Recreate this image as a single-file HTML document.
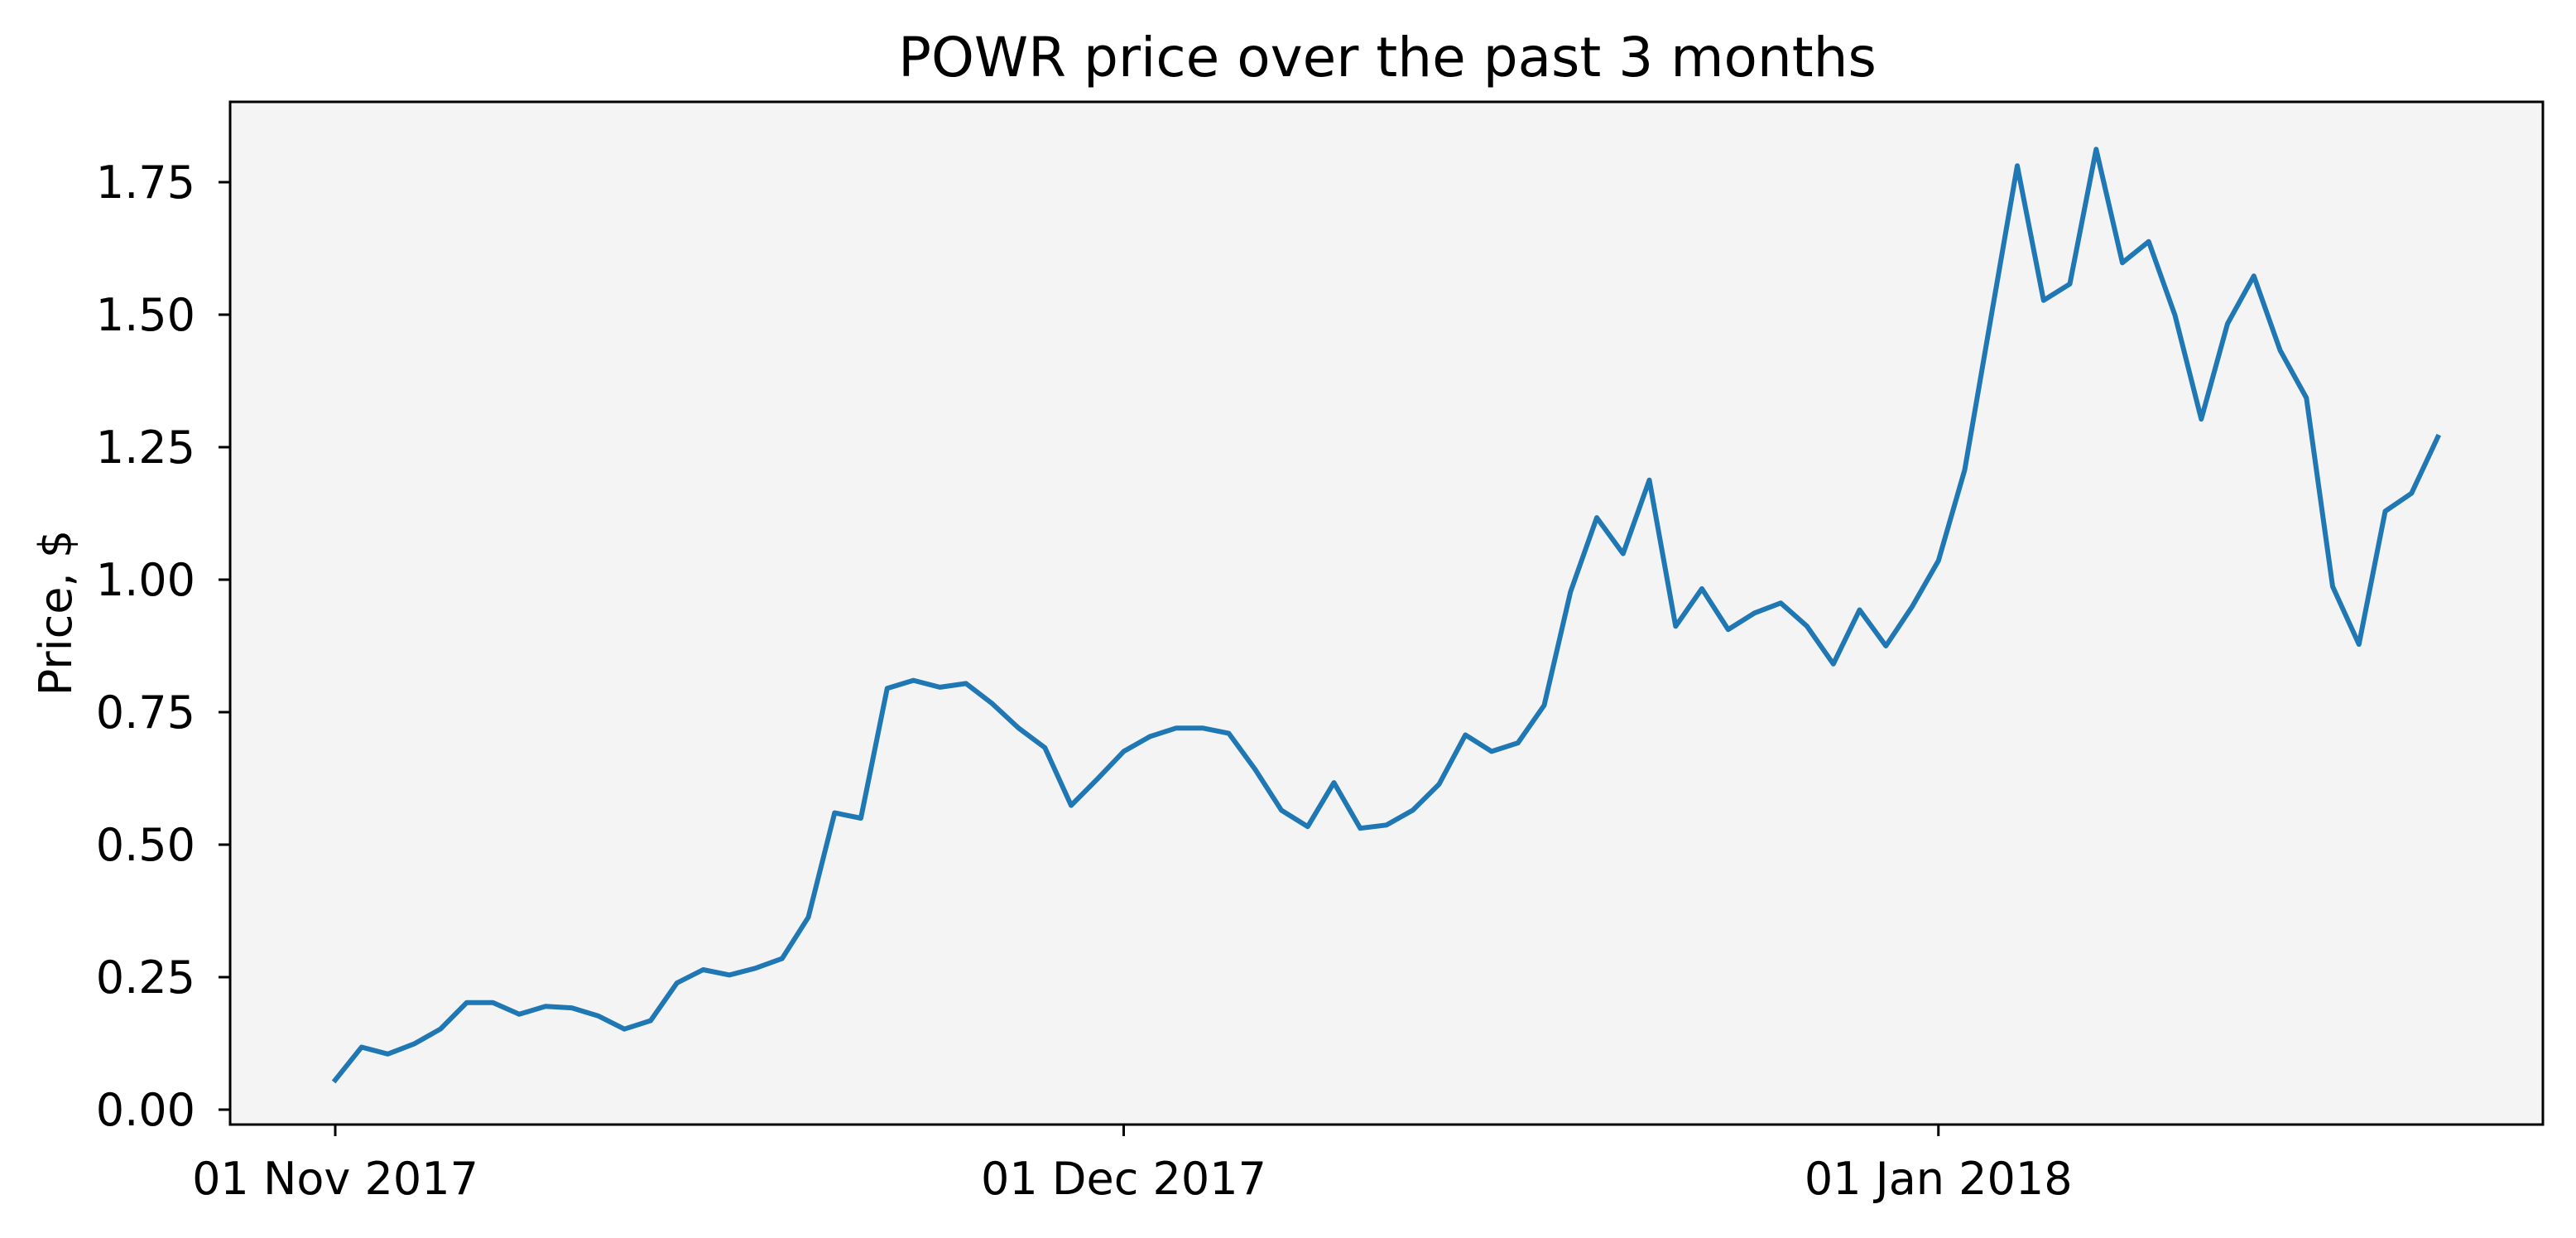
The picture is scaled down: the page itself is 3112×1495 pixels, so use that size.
<!DOCTYPE html>
<html><head><meta charset="utf-8"><style>
html,body{margin:0;padding:0;background:#fff;}
svg text{font-family:"DejaVu Sans","Liberation Sans",sans-serif;fill:#000;}
</style></head><body>
<svg id="chart" width="3112" height="1490" xmlns="http://www.w3.org/2000/svg">
<rect x="0" y="0" width="3112" height="1490" fill="#fff"/>
<rect x="278" y="123" width="2794" height="1235" fill="#f4f4f4"/>
<text x="1676" y="92" font-size="66" text-anchor="middle">POWR price over the past 3 months</text>
<text transform="translate(86,740) rotate(-90)" font-size="54" text-anchor="middle">Price, $</text>
<g id="yticks"></g><g id="xticks"></g>
<path id="line" fill="none" stroke="#1f77b4" stroke-width="6" stroke-linejoin="round" stroke-linecap="square"/>
<rect x="278" y="123" width="2794" height="1235" fill="none" stroke="#000" stroke-width="3"/>
</svg>
<script>
const prices=[0.056,0.118,0.105,0.124,0.152,0.202,0.202,0.18,0.195,0.192,0.177,0.152,0.168,0.239,0.264,0.254,0.267,0.285,0.363,
0.56,0.55,0.795,0.81,0.797,0.804,0.766,0.72,0.683,0.574,0.624,0.676,0.704,0.72,0.72,0.71,0.642,0.565,0.534,0.617,0.531,0.537,0.565,0.614,0.707,0.676,0.692,0.763,0.977,1.117,1.049,1.188,0.912,0.983,0.906,0.937,0.956,0.912,0.841,0.943,0.875,0.949,1.036,1.207,1.495,1.781,1.527,1.558,1.812,1.598,1.638,1.499,1.303,1.483,1.573,1.433,1.343,0.987,0.878,1.129,1.163,1.269];
const yTicks=[0,0.25,0.5,0.75,1.0,1.25,1.5,1.75];
const yTickLabels=["0.00","0.25","0.50","0.75","1.00","1.25","1.50","1.75"];
const xTickDays=[0,30,61];
const xTickLabels=["01 Nov 2017","01 Dec 2017","01 Jan 2018"];
const NS="http://www.w3.org/2000/svg";
function xs(d){return 405+d*31.75;}
function ys(v){return 1340-v*640;}
const yg=document.getElementById('yticks'),xg=document.getElementById('xticks');
yTicks.forEach((v,i)=>{
 const l=document.createElementNS(NS,'line');
 l.setAttribute('x1',264);l.setAttribute('x2',278);l.setAttribute('y1',ys(v));l.setAttribute('y2',ys(v));
 l.setAttribute('stroke','#000');l.setAttribute('stroke-width','3');
 
 
 yg.appendChild(l);
 const t=document.createElementNS(NS,'text');
 t.setAttribute('x',236);t.setAttribute('y',ys(v)+19);t.setAttribute('font-size','54');t.setAttribute('text-anchor','end');
 t.textContent=yTickLabels[i];
 
 
 yg.appendChild(t);
});
xTickDays.forEach((d,i)=>{
 const l=document.createElementNS(NS,'line');
 l.setAttribute('x1',xs(d));l.setAttribute('x2',xs(d));l.setAttribute('y1',1358);l.setAttribute('y2',1372);
 l.setAttribute('stroke','#000');l.setAttribute('stroke-width','3');
 
 
 xg.appendChild(l);
 const t=document.createElementNS(NS,'text');
 t.setAttribute('x',xs(d));t.setAttribute('y',1442);t.setAttribute('font-size','54');t.setAttribute('text-anchor','middle');
 t.textContent=xTickLabels[i];
 
 
 xg.appendChild(t);
});
const line=document.getElementById('line');
line.setAttribute('d',prices.map((v,i)=>(i?'L':'M')+xs(i).toFixed(1)+' '+ys(v).toFixed(1)).join(' '));


</script>
</body></html>
